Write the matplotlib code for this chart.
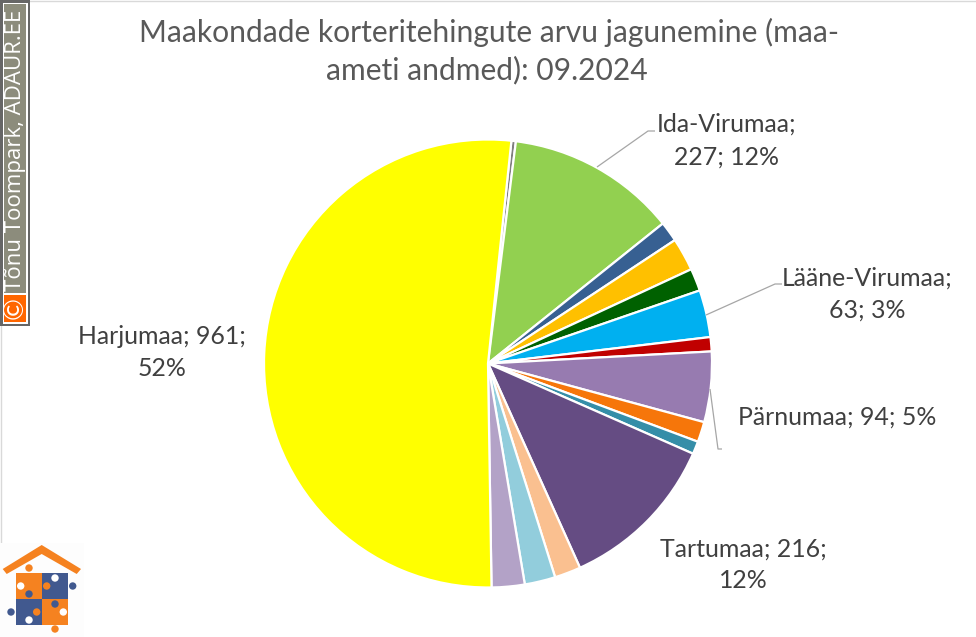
import matplotlib
matplotlib.use("Agg")
import matplotlib.pyplot as plt
from matplotlib.patches import Rectangle, Circle, Polygon

plt.rcParams['font.family'] = ['Lato', 'DejaVu Sans']

W, H = 976, 637
regions = ["Tundmatu", "Ida-Virumaa", "Järvamaa", "Jõgevamaa", "Läänemaa", "Lääne-Virumaa", "Põlvamaa",
           "Pärnumaa", "Raplamaa", "Saaremaa", "Tartumaa", "Valgamaa", "Viljandimaa", "Võrumaa", "Harjumaa"]
values = [6, 227, 27, 44, 30, 63, 19, 94, 27, 17, 216, 35, 41, 44, 961]
colors = ["#7f7f7f", "#92d050", "#376092", "#ffc000", "#006100", "#00b0f0", "#c00000",
          "#977bb0", "#f6760a", "#358ea8", "#654c83", "#fac090", "#92cddc", "#b3a2c7", "#ffff00"]
title_lines = ["Maakondade korteritehingute arvu jagunemine (maa-", "ameti andmed): 09.2024"]
credit = "Tõnu Toompark, ADAUR.EE"

fig = plt.figure(figsize=(W / 100, H / 100), dpi=100, facecolor="white")
ax = fig.add_axes([0, 0, 1, 1])
ax.set_xlim(0, W)
ax.set_ylim(0, H)
ax.axis("off")
Y = lambda y: H - y

ax.pie(values, colors=colors, center=(488, Y(363.5)), radius=224, startangle=90 - 6.0, counterclock=False,
       wedgeprops=dict(edgecolor="white", linewidth=1.6), frame=False)
ax.set_xlim(0, W)
ax.set_ylim(0, H)
ax.set_aspect("auto")

TXT = "#404040"
total = sum(values)
def lab(name):
    v = values[regions.index(name)]
    return name, v, round(v / total * 100)

def put(x, y, s):
    ax.text(x, Y(y), s, ha="center", va="center", fontsize=17.9, color=TXT)

n, v, p = lab("Ida-Virumaa")
put(727, 124, f"{n};"); put(727, 157, f"{v}; {p}%")
n, v, p = lab("Lääne-Virumaa")
put(867, 278, f"{n};"); put(867, 310, f"{v}; {p}%")
n, v, p = lab("Pärnumaa")
put(837, 417, f"{n}; {v}; {p}%")
n, v, p = lab("Tartumaa")
put(743, 549, f"{n}; {v};"); put(743, 581, f"{p}%")
n, v, p = lab("Harjumaa")
put(162, 337, f"{n}; {v};"); put(162, 369, f"{p}%")

for xs, ys in [((597, 648, 655), (167, 131, 131)),
               ((706, 775, 782), (315, 284, 284)),
               ((710, 718, 722), (389, 449, 449))]:
    ax.plot(xs, [Y(y) for y in ys], color="#a6a6a6", lw=0.9, solid_capstyle="butt")

ax.text(489, Y(32), title_lines[0], ha="center", va="center", fontsize=21.6, color="#595959")
ax.text(487, Y(70), title_lines[1], ha="center", va="center", fontsize=21.6, color="#595959")

# Chart frame hairlines
ax.plot([0, W], [Y(0.5), Y(0.5)], color="#d9d9d9", lw=1)
ax.plot([0.5, 0.5], [Y(0), Y(H)], color="#d9d9d9", lw=1)

# Credit badge
ax.add_patch(Rectangle((0, Y(326)), 30, 326, fc="#666666", ec="none", zorder=3))
ax.add_patch(Rectangle((2.5, Y(323.5)), 25, 321, fc="white", ec="none", zorder=3))
ax.add_patch(Rectangle((4, Y(292.5)), 22, 288.5, fc="#8c8c7c", ec="none", zorder=3))
ax.add_patch(Rectangle((4, Y(322)), 22, 27.5, fc="#ff6600", ec="none", zorder=3))
ax.text(16, Y(291), credit, rotation=90, ha="center", va="bottom", fontsize=16, color="white",
        family=["Open Sans", "DejaVu Sans"], zorder=4)
ax.text(15.2, Y(308), "©", rotation=90, ha="center", va="center", fontsize=19, color="white", zorder=4)

# Logo
OR, BL = "#f58220", "#41598f"
ax.add_patch(Rectangle((0, 0), 84, 94, fc="#fdfdfd", ec="none", zorder=2))
ax.add_patch(Polygon([(2.7, Y(569)), (41.7, Y(545)), (81, Y(569)), (76.7, Y(574)), (41.7, Y(554)), (6.7, Y(574))],
                     fc=OR, ec="none", zorder=3))
ax.add_patch(Rectangle((16, Y(599)), 26, 26, fc=OR, ec="none", zorder=3))
ax.add_patch(Rectangle((42, Y(599)), 26, 26, fc=BL, ec="none", zorder=3))
ax.add_patch(Rectangle((16, Y(625)), 26, 26, fc=BL, ec="none", zorder=3))
ax.add_patch(Rectangle((42, Y(625)), 26, 26, fc=OR, ec="none", zorder=3))
for cx, cy, c in [(29, 568, OR), (72.7, 586, BL), (46.7, 586, OR), (55, 578, "white"), (20.7, 586, "white"),
                  (29, 594, BL), (11, 612, BL), (36.7, 612, OR), (55, 604, BL), (63.3, 612, "white"),
                  (29, 620, "white"), (55, 629, OR)]:
    ax.add_patch(Circle((cx, Y(cy)), 3.7, fc=c, ec="none", zorder=4))

fig.savefig("out.png", dpi=100, facecolor="white")
